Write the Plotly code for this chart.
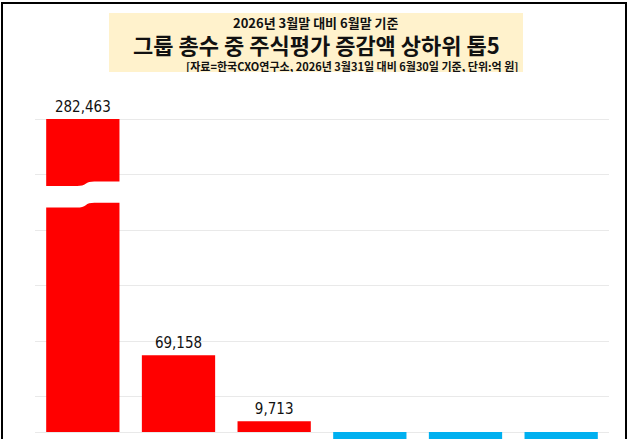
import plotly.graph_objects as go

# ---- data ----
categories = ["상위1", "상위2", "상위3", "하위3", "하위2", "하위1"]
values = [282463, 69158, 9713, -21000, -15000, -12000]
bar_colors = ["#FF0000", "#FF0000", "#FF0000", "#00B0F0", "#00B0F0", "#00B0F0"]
grid_vals = [32000, 82000, 132000, 182000, 232000, 282000]

title_line1 = "2026년 3월말 대비 6월말 기준"
title_line2 = "그룹 총수 중 주식평가 증감액 상하위 톱5"
title_line3 = "[자료=한국CXO연구소, 2026년 3월31일 대비 6월30일 기준, 단위:억 원]"

# ---- layout geometry ----
W, H = 628, 439
ML, MR, MT, MB = 35, 19, 80, 0
PW, PH = W - ML - MR, H - MT - MB
zero_px = 432                      # pixel row of value 0
top_px = 119                       # pixel row of largest value
k = values[0] / (zero_px - top_px) # units per pixel
y_max = (zero_px - MT) * k
y_min = -(H - MB - zero_px) * k


def px_x(X):
    return (X - ML) / PW


def px_y(Y):
    return (H - MB - Y) / PH


# labels only for bars whose label is visible (the negative labels fall below the crop)
bar_text = [f"{v:,}" if v > 0 else "" for v in values]

fig = go.Figure()
fig.add_trace(go.Bar(
    x=categories, y=values,
    marker=dict(color=bar_colors, line=dict(width=0)),
    text=bar_text, textposition="outside",
    textfont=dict(family="DejaVu Sans Condensed, Liberation Sans Narrow, Liberation Sans, sans-serif",
                  size=15, color="#111111"),
    cliponaxis=True,
    hoverinfo="skip",
))

# bar break (white wavy band on first bar)
v = values[0]
bL, bR = 0.717 * v, 0.7325 * v
tL, tR = 0.786 * v, 0.800 * v
path = (f"M -0.45,{bL} L -0.06,{bL} Q 0.0,{bL} 0.03,{(bL+bR)/2} Q 0.06,{bR} 0.12,{bR} "
        f"L 0.45,{bR} L 0.45,{tR} L 0.12,{tR} Q 0.06,{tR} 0.03,{(tL+tR)/2} "
        f"Q 0.0,{tL} -0.06,{tL} L -0.45,{tL} Z")
shapes = [
    dict(type="path", xref="x", yref="y", path=path,
         fillcolor="white", line=dict(width=0), layer="above"),
    # title box
    dict(type="rect", xref="paper", yref="paper",
         x0=px_x(109), x1=px_x(523), y0=px_y(72), y1=px_y(13),
         fillcolor="#FFF2CC", line=dict(width=0), layer="below"),
    # outer black border
    dict(type="rect", xref="paper", yref="paper",
         x0=px_x(2), x1=px_x(626), y0=px_y(460), y1=px_y(3),
         fillcolor="rgba(0,0,0,0)", line=dict(color="black", width=2)),
]

cjk = "Noto Sans CJK KR, sans-serif"
annotations = [
    dict(text=f"<b>{title_line1}</b>", xref="paper", yref="paper",
         x=px_x(316), y=px_y(22.5), xanchor="center", yanchor="middle",
         height=16, showarrow=False, font=dict(family=cjk, size=13, color="#111111")),
    dict(text=f"<b>{title_line2}</b>", xref="paper", yref="paper",
         x=px_x(316), y=px_y(44.5), xanchor="center", yanchor="middle",
         height=26, showarrow=False, font=dict(family=cjk, size=22, color="#111111")),
    dict(text=f"<b>{title_line3}</b>", xref="paper", yref="paper",
         x=px_x(521), y=px_y(65.5), xanchor="right", yanchor="middle",
         height=13, showarrow=False, font=dict(family=cjk, size=11, color="#111111")),
]

fig.update_layout(
    width=W, height=H,
    margin=dict(l=ML, r=MR, t=MT, b=MB, pad=0),
    paper_bgcolor="white", plot_bgcolor="white",
    bargap=0.234, showlegend=False,
    shapes=shapes, annotations=annotations,
    xaxis=dict(showticklabels=False, showgrid=False, zeroline=False,
               showline=False, ticks=""),
    yaxis=dict(range=[y_min, y_max], tickvals=grid_vals, showticklabels=False,
               showgrid=True, gridcolor="#E9E9E9", gridwidth=1,
               zeroline=True, zerolinecolor="#E9E9E9", zerolinewidth=1,
               showline=False, ticks=""),
)

fig.write_html("out.html")
